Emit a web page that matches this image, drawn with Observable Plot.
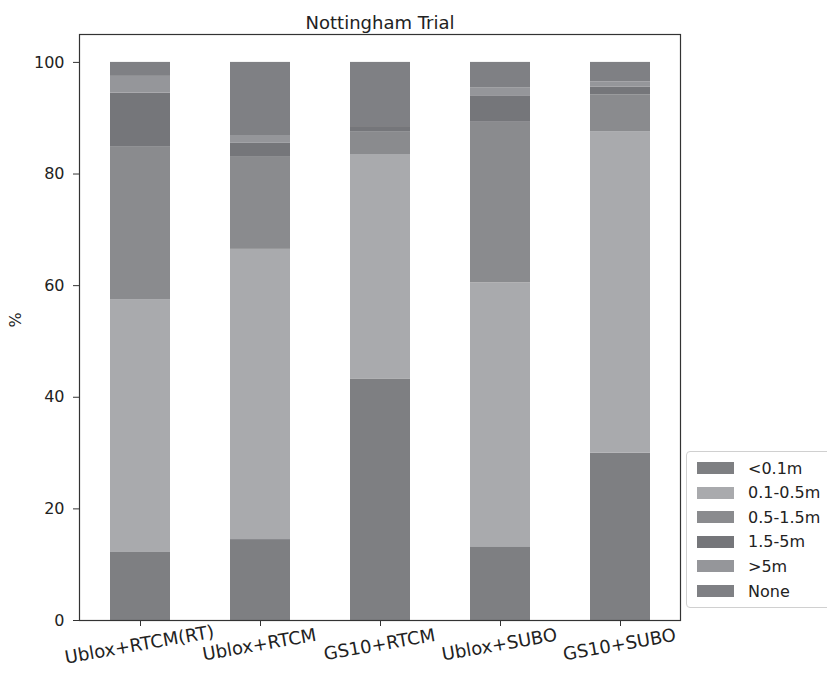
<!DOCTYPE html>
<html>
<head>
<meta charset="utf-8">
<script src="https://cdn.jsdelivr.net/npm/d3@7"></script>
<script src="https://cdn.jsdelivr.net/npm/@observablehq/plot@0.6"></script>
<style>
  html, body { margin: 0; padding: 0; background: #fff; }
  #wrap { position: relative; width: 827px; height: 677px; overflow: hidden; font-family: "DejaVu Sans", sans-serif; }
  #legend { position: absolute; left: 686px; top: 451px; width: 160px; height: 157px; border: 1px solid #d0d0d0; border-radius: 4px; background: #fff; box-sizing: border-box; }
  .row { position: absolute; left: 0; height: 20px; display: flex; align-items: center; font-size: 16px; color: #222; }
  .sw { width: 37px; height: 12px; margin-left: 10px; margin-right: 14px; }
</style>
</head>
<body>
<div id="wrap"><div id="chart"></div><div id="legend"></div></div>
<script>
const categories = ["Ublox+RTCM(RT)", "Ublox+RTCM", "GS10+RTCM", "Ublox+SUBO", "GS10+SUBO"];
const series = ["<0.1m", "0.1-0.5m", "0.5-1.5m", "1.5-5m", ">5m", "None"];
const colors = ["#7e7f82", "#a9aaad", "#8a8b8e", "#75767a", "#95969a", "#7f8084"];
// values per series, one per category (percent)
const lt01   = [12.3, 14.5, 43.2, 13.2, 30.0];
const v01_05 = [45.2, 52.0, 40.3, 47.3, 57.6];
const v05_15 = [27.3, 16.5,  4.1, 28.9,  6.6];
const v15_5  = [ 9.7,  2.5,  0.9,  4.5,  1.4];
const gt5    = [ 3.0,  1.4,  0.0,  1.5,  0.9];
const none   = [ 2.5, 13.1, 11.5,  4.6,  3.5];
const yTicks = [0, 20, 40, 60, 80, 100];
const title = "Nottingham Trial";
const yLabel = "%";

const seriesValues = [lt01, v01_05, v05_15, v15_5, gt5, none];
const data = [];
series.forEach((s, i) => categories.forEach((c, j) => data.push({cat: c, series: s, value: seriesValues[i][j]})));

const W = 827, H = 677;
const chart = Plot.plot({
  width: W, height: H,
  marginLeft: 79, marginRight: 147, marginTop: 34, marginBottom: 57,
  style: {fontFamily: "DejaVu Sans, sans-serif", fontSize: "16px", color: "#222", background: "#fff"},
  x: {type: "band", domain: categories, paddingInner: 0.5, paddingOuter: 0.245, axis: null},
  y: {domain: [0, 105], axis: null},
  color: {domain: series, range: colors},
  marks: [
    Plot.barY(data, {x: "cat", y: "value", fill: "series", order: series}),
    Plot.frame({stroke: "#333", strokeWidth: 1.2}),
    Plot.axisY({ticks: yTicks, tickSize: 6, tickPadding: 9, label: null, fontSize: 16, stroke: "#333"}),
    Plot.axisX({tickSize: 6, tickFormat: () => "", label: null, stroke: "#333"}),
    Plot.text(categories, {x: d => d, frameAnchor: "bottom", dy: 30, rotate: -10, fontSize: 18, fill: "#222"}),
    Plot.text([title], {frameAnchor: "top", dy: -18, fontSize: 18, fill: "#222"}),
    Plot.text([yLabel], {frameAnchor: "left", dx: -64, rotate: -90, fontSize: 16, fill: "#222"})
  ]
});
document.getElementById("chart").appendChild(chart);

const legend = document.getElementById("legend");
series.forEach((s, i) => {
  const row = document.createElement("div");
  row.className = "row";
  row.style.top = (6 + i * 24.6) + "px";
  const sw = document.createElement("div");
  sw.className = "sw";
  sw.style.background = colors[i];
  const t = document.createElement("span");
  t.textContent = s;
  row.appendChild(sw); row.appendChild(t);
  legend.appendChild(row);
});
</script>
</body>
</html>
